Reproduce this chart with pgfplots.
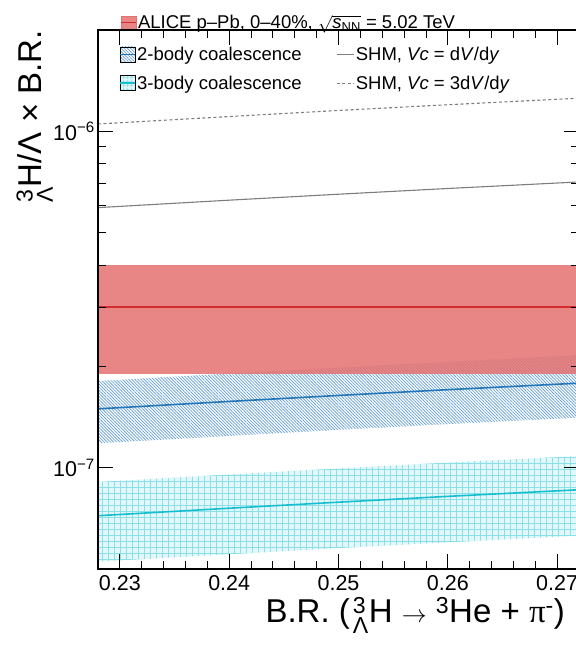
\documentclass[border=0pt]{standalone}
\usepackage{pgfplots}
\pgfplotsset{compat=1.18}
\usepgfplotslibrary{fillbetween}
\usetikzlibrary{patterns.meta}
\usepackage{amsmath}
\usepackage{fontspec}
\setmainfont{Liberation Sans}
\newfontfamily\greekserif{Liberation Serif}

\definecolor{aliceline}{RGB}{212,44,44}
\definecolor{alicefill}{RGB}{228,112,112}
\definecolor{twoline}{RGB}{35,118,183}
\definecolor{twohatch}{RGB}{112,165,214}
\definecolor{threeline}{RGB}{23,190,207}
\definecolor{shmgray}{RGB}{125,125,125}

\begin{document}
\begin{tikzpicture}
\begin{axis}[
    name=ax,
    scale only axis,
    width=481pt, height=539pt,
    xmin=0.228, xmax=0.272,
    ymode=log, ymin=5e-8, ymax=2e-6,
    xtick={0.23,0.24,0.25,0.26,0.27},
    xticklabels={0.23,0.24,0.25,0.26,0.27},
    minor x tick num=4,
    ytick={1e-7,1e-6},
    yticklabels={10\textsuperscript{−7},10\textsuperscript{−6}},
    major tick length=15pt, minor tick length=8pt,
    tick style={black, line width=0.9pt},
    axis line style={line width=1.2pt},
    axis on top,
    ticklabel style={font=\fontsize{21.5}{24}\selectfont},
    xticklabel style={inner sep=2pt, yshift=-4pt},
    yticklabel style={inner sep=3pt},
    label style={font=\fontsize{33}{38}\selectfont, inner sep=0pt},
    xlabel={B.R. (\kern3pt$^{\text{3}}_{\text{Λ}}$H $\rightarrow$ $^{\text{3}}$He + {\greekserif π}$^{\text{-}}$)},
    xlabel style={at={(axis description cs:0.971,-0.052)}, anchor=north east},
    ylabel={$^{\text{3}}_{\text{Λ}}$H/Λ × B.R.},
    ylabel style={at={(axis description cs:-0.0936,1)}, anchor=south east},
    legend columns=2,
    legend cell align=left,
    legend style={draw=none, fill=none, inner sep=0pt,
        at={(axis description cs:0.0437,0.972)}, anchor=north west,
        font=\fontsize{18.5}{21}\selectfont,
        nodes={inner sep=1.5pt},
        row sep=11pt,
        /tikz/every even column/.append style={column sep=33pt}},
]
% 2-body coalescence band
\addplot[name path=btop, draw=none, forget plot] coordinates {
    (0.228,1.810e-7) (0.240,1.905e-7) (0.250,1.984e-7) (0.260,2.064e-7) (0.272,2.159e-7)};
\addplot[name path=bbot, draw=none, forget plot] coordinates {
    (0.228,1.182e-7) (0.240,1.243e-7) (0.250,1.296e-7) (0.260,1.348e-7) (0.272,1.409e-7)};
\addplot[draw=none, pattern={Lines[angle=-45,distance=2.2pt,line width=0.8pt]},
    pattern color=twohatch, forget plot] fill between[of=btop and bbot];

% 3-body coalescence band
\addplot[name path=ctop, draw=none, forget plot] coordinates {
    (0.228,9.07e-8) (0.240,9.55e-8) (0.250,9.95e-8) (0.260,1.036e-7) (0.272,1.083e-7)};
\addplot[name path=cbot, draw=none, forget plot] coordinates {
    (0.228,5.26e-8) (0.240,5.53e-8) (0.250,5.77e-8) (0.260,6.00e-8) (0.272,6.28e-8)};
\addplot[draw=none, fill=threeline, fill opacity=0.13, forget plot] fill between[of=ctop and cbot];
\addplot[draw=none, pattern={Hatch[distance=6pt,line width=0.6pt]},
    pattern color=threeline!50, forget plot] fill between[of=ctop and cbot];

% ALICE measurement
\addplot[draw=none, fill=alicefill, fill opacity=0.85, forget plot] coordinates {
    (0.228,1.9e-7) (0.272,1.9e-7) (0.272,4.0e-7) (0.228,4.0e-7)} -- cycle;
\addplot[aliceline, line width=1.5pt, forget plot] coordinates {(0.228,3.0e-7) (0.272,3.0e-7)};

% central lines
\addplot[twoline, line width=1.6pt, forget plot] coordinates {
    (0.228,1.496e-7) (0.240,1.574e-7) (0.250,1.640e-7) (0.260,1.706e-7) (0.272,1.784e-7)};
\addplot[threeline, line width=1.6pt, forget plot] coordinates {
    (0.228,7.20e-8) (0.240,7.58e-8) (0.250,7.90e-8) (0.260,8.22e-8) (0.272,8.60e-8)};
\addplot[shmgray, line width=1.1pt, forget plot] coordinates {
    (0.228,5.93e-7) (0.240,6.24e-7) (0.250,6.50e-7) (0.260,6.76e-7) (0.272,7.07e-7)};
\addplot[shmgray, line width=1.1pt, dash pattern=on 3pt off 2.5pt, forget plot] coordinates {
    (0.228,1.051e-6) (0.240,1.106e-6) (0.250,1.153e-6) (0.260,1.199e-6) (0.272,1.254e-6)};

% legend
\addlegendimage{legend image code/.code={
    \fill[pattern={Lines[angle=-45,distance=2.2pt,line width=0.8pt]}, pattern color=twohatch] (0pt,-7.5pt) rectangle (15pt,7.5pt);
    \draw[twoline, line width=1.4pt] (0pt,0pt) -- (15pt,0pt);}}
\addlegendentry{2-body coalescence}
\addlegendimage{shmgray, line width=1.1pt}
\addlegendentry{SHM, \textit{Vc} = d\textit{V}/d\textit{y}}
\addlegendimage{legend image code/.code={
    \fill[threeline, fill opacity=0.13] (0pt,-7.5pt) rectangle (15pt,7.5pt);
    \fill[pattern={Hatch[distance=4pt,line width=0.6pt]}, pattern color=threeline!50] (0pt,-7.5pt) rectangle (15pt,7.5pt);
    \draw[threeline, line width=1.4pt] (0pt,0pt) -- (15pt,0pt);}}
\addlegendentry{3-body coalescence}
\addlegendimage{shmgray, line width=1.1pt, dash pattern=on 3pt off 2.5pt}
\addlegendentry{SHM, \textit{Vc} = 3d\textit{V}/d\textit{y}}
\end{axis}

\begin{axis}[
    at={(ax.south west)}, anchor=south west,
    scale only axis,
    width=481pt, height=539pt,
    xmin=0, xmax=1, ymin=0, ymax=1,
    hide axis,
    legend style={draw=none, fill=none, inner sep=0pt,
        at={(axis description cs:0.0457,1.0135)}, anchor=west,
        font=\fontsize{18.5}{21}\selectfont,
        nodes={inner sep=1.5pt}},
]
\addlegendimage{legend image code/.code={
    \fill[alicefill, fill opacity=0.85] (0pt,-7pt) rectangle (15pt,7pt);
    \draw[aliceline, line width=1.4pt] (0pt,0pt) -- (15pt,0pt);}}
\addlegendentry{ALICE p–Pb, 0–40\%, $\sqrt{\textit{s}_{\text{NN}}}$ = 5.02 TeV}
\end{axis}

\pgfresetboundingbox
\path[use as bounding box] ([shift={(-98pt,-80pt)}]ax.south west) rectangle ([shift={(-3pt,30pt)}]ax.north east);
\end{tikzpicture}
\end{document}
